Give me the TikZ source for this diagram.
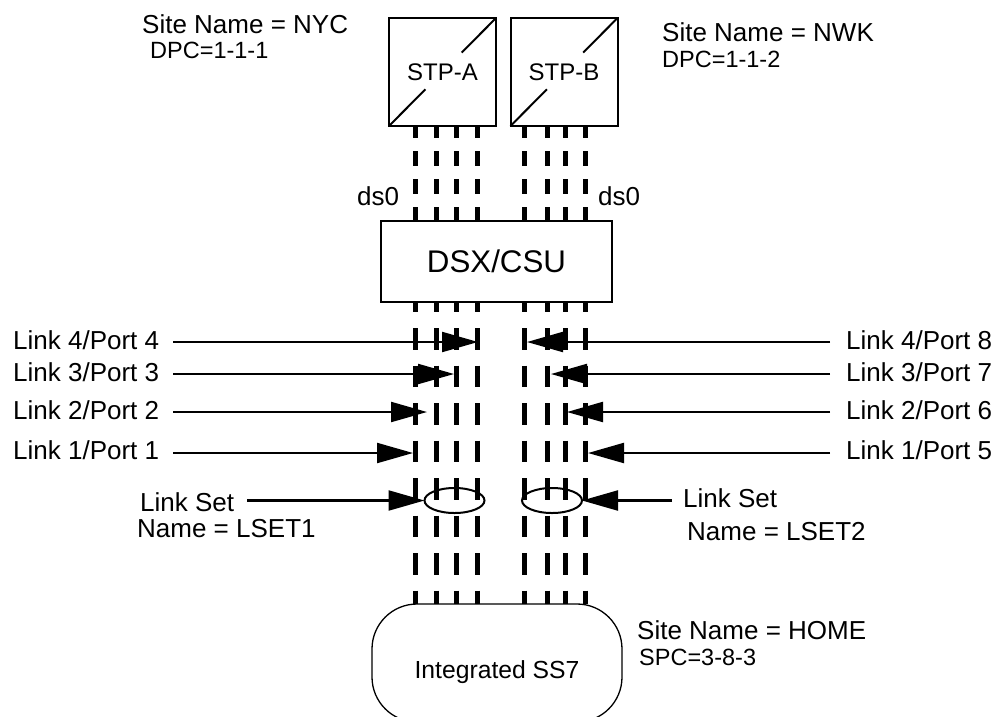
\documentclass[tikz,border=0pt]{standalone}
\usepackage{fontspec}
\setmainfont{Liberation Sans}
\usetikzlibrary{arrows.meta,calc,shapes.geometric}
\begin{document}
\begin{tikzpicture}[x=1pt,y=-1pt,
  box/.style={draw, line width=2pt, inner sep=0pt, outer sep=0pt},
  stpbox/.style={box, minimum width=107pt, minimum height=108pt, font=\fontsize{24}{28}\selectfont},
  lbl/.style={inner sep=0pt, anchor=base west, font=\fontsize{26}{30}\selectfont},
  smalllbl/.style={inner sep=0pt, anchor=base west, font=\fontsize{23.5}{28}\selectfont},
  linkup/.style={line width=5pt, dash pattern=on 15pt off 13pt, dash phase=3pt},
  linkdn/.style={line width=5pt, dash pattern=on 21.5pt off 16pt, dash phase=11.5pt},
  arr/.style={line width=2.2pt, -{Triangle[length=36pt,width=20pt]}},
  lset/.style={draw, ellipse, line width=2pt, minimum width=60pt, minimum height=25pt, inner sep=0pt, outer sep=0pt}
]
\useasboundingbox (0,0) rectangle (996,716);
\clip (0,0) rectangle (996,716);

% STP boxes
\node[stpbox] (stpa) at (442.5,72) {STP-A};
\node[stpbox] (stpb) at (564,72) {STP-B};
\foreach \n in {stpa,stpb} {
  \draw[line width=2pt] (\n.south west) -- ($(\n.south west)!0.34!(\n.north east)$);
  \draw[line width=2pt] ($(\n.south west)!0.68!(\n.north east)$) -- (\n.north east);
}

% DSX/CSU
\node[box, minimum width=231pt, minimum height=81pt, font=\fontsize{31.3}{36}\selectfont] (dsx) at (496.5,261.5) {DSX/CSU};

% Integrated SS7
\node[draw, line width=1.3pt, rounded corners=45pt, minimum width=250pt, minimum height=118pt, inner sep=0pt, outer sep=0pt] (ss7) at (497,663) {};
\node[inner sep=0pt, anchor=base, font=\fontsize{24.7}{28}\selectfont] (ss7t) at (497,678) {Integrated SS7};

% dashed ds0 lines
\foreach \x in {415,436,456,477,524,547,565,585} {
  \draw[linkup] (\x,0 |- stpa.south) -- (\x,0 |- dsx.north);
  \draw[linkdn] (\x,0 |- dsx.south) -- (\x,0 |- ss7.north);
}

% link set ellipses
\node[lset] (ls1) at (454.5,500.5) {};
\node[lset] (ls2) at (552,500.5) {};

% labels
\node[lbl] (nyc) at (142,33) {Site Name = NYC};
\node[smalllbl] (dpc1) at (150,58) {DPC=1-1-1};
\node[lbl] (nwk) at (662,41) {Site Name = NWK};
\node[smalllbl] (dpc2) at (662,67) {DPC=1-1-2};
\node[lbl] (home) at (637,639) {Site Name = HOME};
\node[smalllbl] (spc) at (639,665) {SPC=3-8-3};
\node[lbl] (ds0a) at (357,205) {ds0};
\node[lbl] (ds0b) at (598,205) {ds0};

\node[lbl] (l4) at (13,349) {Link 4/Port 4};
\node[lbl] (l3) at (13,381) {Link 3/Port 3};
\node[lbl] (l2) at (13,419) {Link 2/Port 2};
\node[lbl] (l1) at (13,459.5) {Link 1/Port 1};
\node[lbl] (r4) at (846,349) {Link 4/Port 8};
\node[lbl] (r3) at (846,381) {Link 3/Port 7};
\node[lbl] (r2) at (846,419) {Link 2/Port 6};
\node[lbl] (r1) at (846,459.5) {Link 1/Port 5};
\node[lbl] (lsl) at (140,511) {Link Set};
\node[lbl] (lsln) at (137,537) {Name = LSET1};
\node[lbl] (lsr) at (683,507) {Link Set};
\node[lbl] (lsrn) at (687,540) {Name = LSET2};

% arrows
\coordinate (a4) at (173,342); \coordinate (t4) at (478,342);
\coordinate (a3) at (173,374); \coordinate (t3) at (454,374);
\coordinate (a2) at (173,412); \coordinate (t2) at (427,412);
\coordinate (a1) at (173,453); \coordinate (t1) at (413,453);
\coordinate (b4) at (830,342); \coordinate (u4) at (527,342);
\coordinate (b3) at (830,374); \coordinate (u3) at (551,374);
\coordinate (b2) at (830,412); \coordinate (u2) at (567,412);
\coordinate (b1) at (830,453); \coordinate (u1) at (588,453);
\coordinate (als) at (247,500.5);
\coordinate (bls) at (672,500.5);
\draw[arr] (a4) -- (t4);
\draw[arr] (a3) -- (t3);
\draw[arr] (a2) -- (t2);
\draw[arr] (a1) -- (t1);
\draw[arr] (b4) -- (u4);
\draw[arr] (b3) -- (u3);
\draw[arr] (b2) -- (u2);
\draw[arr] (b1) -- (u1);
\draw[arr] (als) -- (ls1.west);
\draw[arr] (bls) -- (ls2.east);
\end{tikzpicture}
\end{document}
